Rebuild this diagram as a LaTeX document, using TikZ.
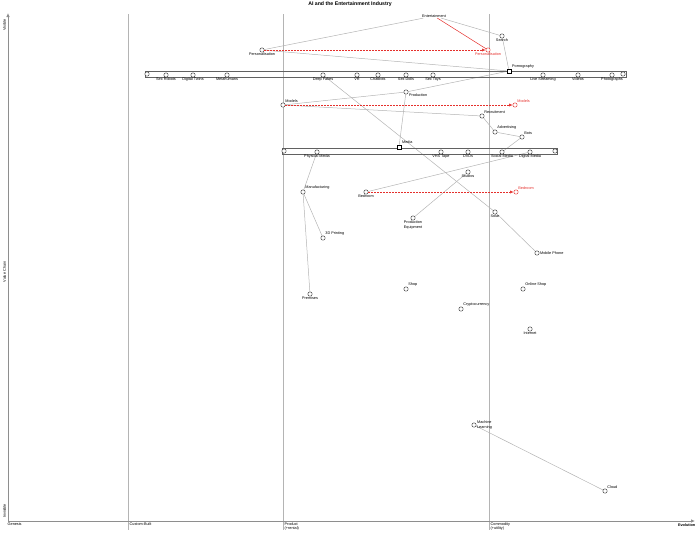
\documentclass[tikz,border=0pt]{standalone}
\usepackage{fontspec}
\setmainfont{Liberation Sans}
\usetikzlibrary{arrows.meta,backgrounds}
\definecolor{mapink}{HTML}{3A3A3A}
\definecolor{mapline}{HTML}{B4B4B4}
\definecolor{mapaxis}{HTML}{8E8E8E}
\definecolor{mapred}{HTML}{E5302C}
\tikzset{
  maptext/.style={font=\fontsize{3.8}{4.3}\selectfont, text=black, inner sep=.5pt, align=center},
  redtext/.style={maptext, text=mapred},
  every label/.style={maptext},
  comp/.style={circle, draw=mapink, fill=white, line width=.45pt,
    minimum size=4.4pt, inner sep=0pt},
  pipecomp/.style={comp, label distance=2.4pt},
  evolved/.style={comp, draw=mapred},
  market/.style={rectangle, draw=black, fill=white, line width=.9pt,
    minimum size=4pt, inner sep=0pt},
  link/.style={draw=mapline, line width=.5pt},
  redlink/.style={draw=mapred, line width=.5pt},
  evolve/.style={draw=mapred, line width=.5pt, dash pattern=on 1.5pt off 1.5pt,
    -{Latex[length=3.4pt,width=3pt]}},
  pipebox/.style={draw=mapink!80, line width=.4pt},
  gridline/.style={draw=mapline, line width=.5pt},
  axisline/.style={draw=mapaxis, line width=.9pt, -{Latex[length=4pt,width=3.6pt]}}
}

\begin{document}
\begin{tikzpicture}[x=1pt,y=-1pt]
  \useasboundingbox (0,0) rectangle (700,536);

  % frame: title, axes and evolution stages
  \node[font=\fontsize{5.2}{6}\selectfont\bfseries] (title) at (350,4) {AI and the Entertainment Industry};
  \foreach \x in {128,283,489} {
    \draw[gridline] (\x,14) -- (\x,530);
  }
  \draw[axisline] (8,521) -- (8,13);
  \draw[axisline] (8,521) -- (695,521);
  \node[maptext, rotate=90] (visible) at (4.5,25) {Visible};
  \node[maptext, rotate=90] (valuechain) at (4.5,272) {Value Chain};
  \node[maptext, rotate=90] (invisible) at (4.5,511) {Invisible};
  \node[maptext, anchor=north west] (genesis) at (7,522) {Genesis};
  \node[maptext, anchor=north west] (custom) at (129,522) {Custom-Built};
  \node[maptext, anchor=north west, align=left] (product) at (284,522) {Product\\(+rental)};
  \node[maptext, anchor=north west, align=left] (commodity) at (490,522) {Commodity\\(+utility)};
  \node[maptext, anchor=north east, font=\fontsize{3.8}{4.3}\selectfont\bfseries] (evolution) at (696,523) {Evolution};

  % pipelines
  \draw[pipebox] (145,71) rectangle (626,77);
  \draw[pipebox] (282,148) rectangle (557,154);
  \node[comp] (pipeAleft) at (147,74) {};
  \node[comp] (pipeAright) at (623,74) {};
  \node[comp] (pipeBleft) at (284,151) {};
  \node[comp] (pipeBright) at (555,151) {};

  % anchor and top of the chain
  \node[maptext] (ent) at (434,16) {Entertainment};
  \node[comp, label=below:Search] (search) at (502,36) {};
  \node[comp, label=below:Personalisation] (perso) at (262,50) {};
  \node[evolved, label={[redtext]below:Personalisation}] (persoR) at (488,50) {};
  \node[market, label=above right:Pornography] (porn) at (509,71) {};

  % pornography pipeline
  \node[pipecomp, label=below:Sex Robots] (sexrobots) at (166,75) {};
  \node[pipecomp, label=below:Digital Twins] (twins) at (193,75) {};
  \node[pipecomp, label=below:Metahumans] (metahumans) at (227,75) {};
  \node[pipecomp, label=below:Deep Fakes] (deepfakes) at (323,75) {};
  \node[pipecomp, label=below:VR] (vr) at (357,75) {};
  \node[pipecomp, label=below:Chatbots] (chatbots) at (378,75) {};
  \node[pipecomp, label=below:Sex Dolls] (sexdolls) at (406,75) {};
  \node[pipecomp, label=below:Sex Toys] (sextoys) at (433,75) {};
  \node[pipecomp, label=below:Live Streaming] (streaming) at (543,75) {};
  \node[pipecomp, label=below:Videos] (videos) at (578,75) {};
  \node[pipecomp, label=below:Photographs] (photos) at (612,75) {};

  % production side
  \node[comp, label=-15:Production] (production) at (406,92) {};
  \node[comp, label=above right:Models] (models) at (283,105) {};
  \node[evolved, label={[redtext]above right:Models}] (modelsR) at (515,105) {};
  \node[comp, label=above right:Recruitment] (recruit) at (482,116) {};
  \node[comp, label=above right:Advertising] (advert) at (495,132) {};
  \node[comp, label=above right:Bots] (bots) at (522,137) {};
  \node[market, label=above right:Media] (media) at (399,147) {};

  % media pipeline
  \node[pipecomp, label=below:Physical Media] (physical) at (317,152) {};
  \node[pipecomp, label=below:VHS Tape] (vhs) at (441,152) {};
  \node[pipecomp, label=below:DVDs] (dvds) at (468,152) {};
  \node[pipecomp, label=below:Social Media] (social) at (502,152) {};
  \node[pipecomp, label=below:Digital Media] (digital) at (530,152) {};

  % lower components
  \node[comp, label=below:Studios] (studios) at (468,172) {};
  \node[comp, label=above right:Manufacturing] (manuf) at (303,192) {};
  \node[comp, label=below:Bedroom] (bedroom) at (366,192) {};
  \node[evolved, label={[redtext]above right:Bedroom}] (bedroomR) at (516,192) {};
  \node[comp, label=below:Solar] (solar) at (495,212) {};
  \node[comp, label={below:{Production\\Equipment}}] (equipment) at (413,218) {};
  \node[comp, label=above right:3D Printing] (printing) at (323,238) {};
  \node[comp, label=right:Mobile Phone] (mobile) at (537,253) {};
  \node[comp, label=above right:Shop] (shop) at (406,289) {};
  \node[comp, label=above right:Online Shop] (onlineshop) at (523,289) {};
  \node[comp, label=below:Premises] (premises) at (310,294) {};
  \node[comp, label=above right:Cryptocurrency] (crypto) at (461,309) {};
  \node[comp, label=below:Internet] (internet) at (530,329) {};
  \node[comp, label={[align=left]right:{Machine\\Learning}}] (ml) at (474,425) {};
  \node[comp, label=above right:Cloud] (cloud) at (605,491) {};

  \begin{scope}[on background layer]
    \draw[link] (ent) -- (search);
    \draw[link] (ent) -- (perso);
    \draw[redlink] (ent) -- (persoR);
    \draw[link] (search) -- (porn);
    \draw[link] (perso) -- (porn);
    \draw[link] (porn) -- (production);
    \draw[link] (deepfakes) -- (solar);
    \draw[link] (solar) -- (mobile);
    \draw[link] (models) -- (production);
    \draw[link] (models) -- (recruit);
    \draw[link] (production) -- (media);
    \draw[link] (recruit) -- (advert);
    \draw[link] (advert) -- (bots);
    \draw[link] (bots) -- (social);
    \draw[link] (physical) -- (manuf);
    \draw[link] (manuf) -- (printing);
    \draw[link] (manuf) -- (premises);
    \draw[link] (bedroom) -- (digital);
    \draw[link] (studios) -- (equipment);
    \draw[link] (ml) -- (cloud);
  \end{scope}
  \draw[evolve] (perso) -- (persoR);
  \draw[evolve] (models) -- (modelsR);
  \draw[evolve] (bedroom) -- (bedroomR);
\end{tikzpicture}
\end{document}
